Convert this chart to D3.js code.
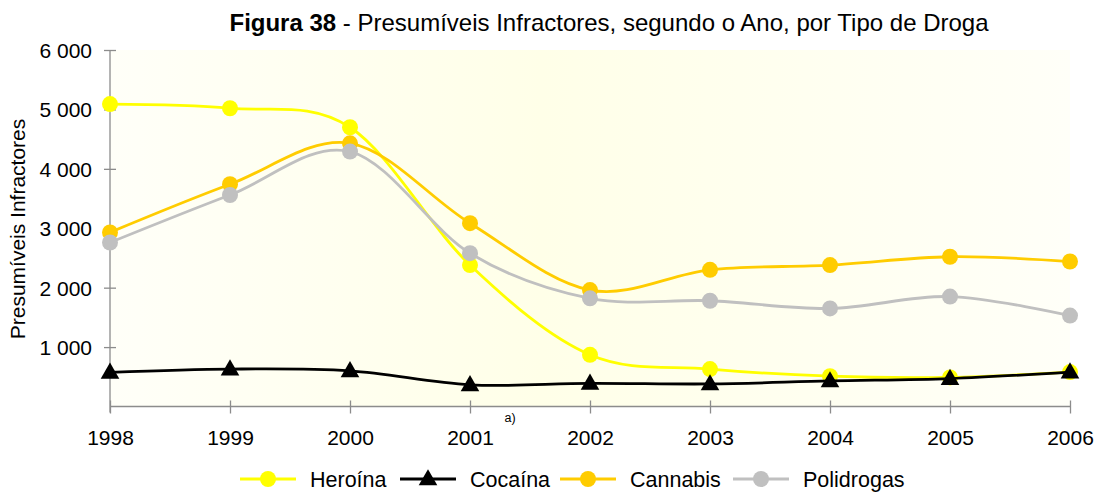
<!DOCTYPE html>
<html>
<head>
<meta charset="utf-8">
<script src="https://cdn.jsdelivr.net/npm/d3@7"></script>
<style>
  html, body { margin: 0; padding: 0; background: #ffffff; }
  svg { display: block; font-family: "Liberation Sans", Arial, sans-serif; }
</style>
</head>
<body>
<svg id="chart" width="1096" height="492"></svg>
<script>
// Anos e valores por tipo de droga
const years = [1998, 1999, 2000, 2001, 2002, 2003, 2004, 2005, 2006];
const heroina    = [5090, 5020, 4700, 2380, 870, 630, 510, 490, 580];
const cocaina    = [575, 630, 600, 365, 390, 380, 430, 470, 580];
const cannabis   = [2930, 3740, 4430, 3085, 1960, 2300, 2380, 2520, 2440];
const polidrogas = [2760, 3560, 4290, 2580, 1820, 1780, 1650, 1850, 1530];
const yTicks = [1000, 2000, 3000, 4000, 5000, 6000];

const seriesNames = ["Heroína", "Cocaína", "Cannabis", "Polidrogas"];
const seriesColors = ["#FFFF00", "#000000", "#FFCC00", "#C0C0C0"];
const seriesMarkers = ["circle", "triangle", "circle", "circle"];
const seriesValues = [heroina, cocaina, cannabis, polidrogas];

const svg = d3.select("#chart");

const x = d3.scalePoint().domain(years).range([110, 1070]);
const y = d3.scaleLinear().domain([0, 6000]).range([406.5, 50]);

const locale = d3.formatLocale({ decimal: ",", thousands: " ", grouping: [3], currency: ["", "€"] });
const fmt = locale.format(",d");

// fundo da área de desenho
const defs = svg.append("defs");
const grad = defs.append("linearGradient").attr("id", "bg").attr("x1", "0").attr("x2", "1").attr("y1", "0").attr("y2", "0");
grad.append("stop").attr("offset", "0%").attr("stop-color", "#FFFFF8");
grad.append("stop").attr("offset", "45%").attr("stop-color", "#FFFFE8");
grad.append("stop").attr("offset", "100%").attr("stop-color", "#FFFFF8");
svg.append("rect")
  .attr("x", x(1998)).attr("y", y(6000))
  .attr("width", x(2006) - x(1998)).attr("height", y(0) - y(6000))
  .attr("fill", "url(#bg)");

// título
svg.append("text")
  .attr("x", 609).attr("y", 31)
  .attr("text-anchor", "middle")
  .attr("font-size", 24)
  .attr("fill", "#000")
  .call(t => {
    t.append("tspan").attr("font-weight", "bold").text("Figura 38");
    t.append("tspan").text(" - Presumíveis Infractores, segundo o Ano, por Tipo de Droga");
  });

// eixo Y
const yAxis = d3.axisLeft(y).tickValues(yTicks).tickSize(0).tickPadding(0).tickFormat(fmt);
const gy = svg.append("g").attr("transform", `translate(${x(1998)},0)`).call(yAxis);
gy.select(".domain").attr("stroke", "#8c8c8c").attr("stroke-width", 1.3).attr("d", `M0,${y(6000)}V${y(0) + 6}`);
gy.selectAll(".tick line").remove();
gy.selectAll(".tick").append("line").attr("x1", -6).attr("x2", 6).attr("stroke", "#8c8c8c").attr("stroke-width", 1.3);
gy.selectAll(".tick text")
  .attr("x", -18).attr("dy", "0.36em")
  .attr("font-size", 21).attr("font-family", "Liberation Sans, Arial, sans-serif").attr("fill", "#000");

// eixo X
const xAxis = d3.axisBottom(x).tickSize(0).tickPadding(0).tickFormat(d3.format("d"));
const gx = svg.append("g").attr("transform", `translate(0,${y(0)})`).call(xAxis);
gx.select(".domain").attr("stroke", "#8c8c8c").attr("stroke-width", 1.3).attr("d", `M${x(1998)},0H${x(2006)}`);
gx.selectAll(".tick line").remove();
gx.selectAll(".tick").append("line").attr("y1", -6).attr("y2", 7).attr("stroke", "#8c8c8c").attr("stroke-width", 1.3);
gx.selectAll(".tick text")
  .attr("y", 38).attr("dy", 0)
  .attr("font-size", 21).attr("font-family", "Liberation Sans, Arial, sans-serif").attr("fill", "#000");

// nota
svg.append("text").attr("x", 510).attr("y", 422).attr("text-anchor", "middle")
  .attr("font-size", 12.5).attr("fill", "#000").text("a)");

// título do eixo Y
svg.append("text")
  .attr("transform", `translate(25,${229}) rotate(-90)`)
  .attr("text-anchor", "middle")
  .attr("font-size", 21).attr("fill", "#000")
  .text("Presumíveis Infractores");

const line = d3.line()
  .x((d, i) => x(years[i]))
  .y(d => y(d))
  .curve(d3.curveCardinal.tension(0));

const triangle = d3.symbol().type(d3.symbolTriangle).size(150);

function drawMarker(g, kind, color, cx, cy) {
  if (kind === "circle") {
    g.append("circle").attr("cx", cx).attr("cy", cy).attr("r", 8).attr("fill", color);
  } else {
    g.append("path").attr("d", triangle()).attr("transform", `translate(${cx},${cy + 1})`).attr("fill", color);
  }
}

seriesValues.forEach((vals, s) => {
  const g = svg.append("g");
  g.append("path").datum(vals).attr("d", line)
    .attr("fill", "none").attr("stroke", seriesColors[s]).attr("stroke-width", 2.8);
  vals.forEach((v, i) => drawMarker(g, seriesMarkers[s], seriesColors[s], x(years[i]), y(v)));
});

// legenda
const legendX = [240, 400, 560, 733];
const lg = svg.append("g");
seriesNames.forEach((name, s) => {
  const lx = legendX[s], ly = 479;
  lg.append("line").attr("x1", lx).attr("x2", lx + 56).attr("y1", ly).attr("y2", ly)
    .attr("stroke", seriesColors[s]).attr("stroke-width", 2.8);
  drawMarker(lg, seriesMarkers[s], seriesColors[s], lx + 28, ly);
  lg.append("text").attr("x", lx + 70).attr("y", ly + 7.5)
    .attr("font-size", 21.5).attr("fill", "#000").text(name);
});
</script>
</body>
</html>
